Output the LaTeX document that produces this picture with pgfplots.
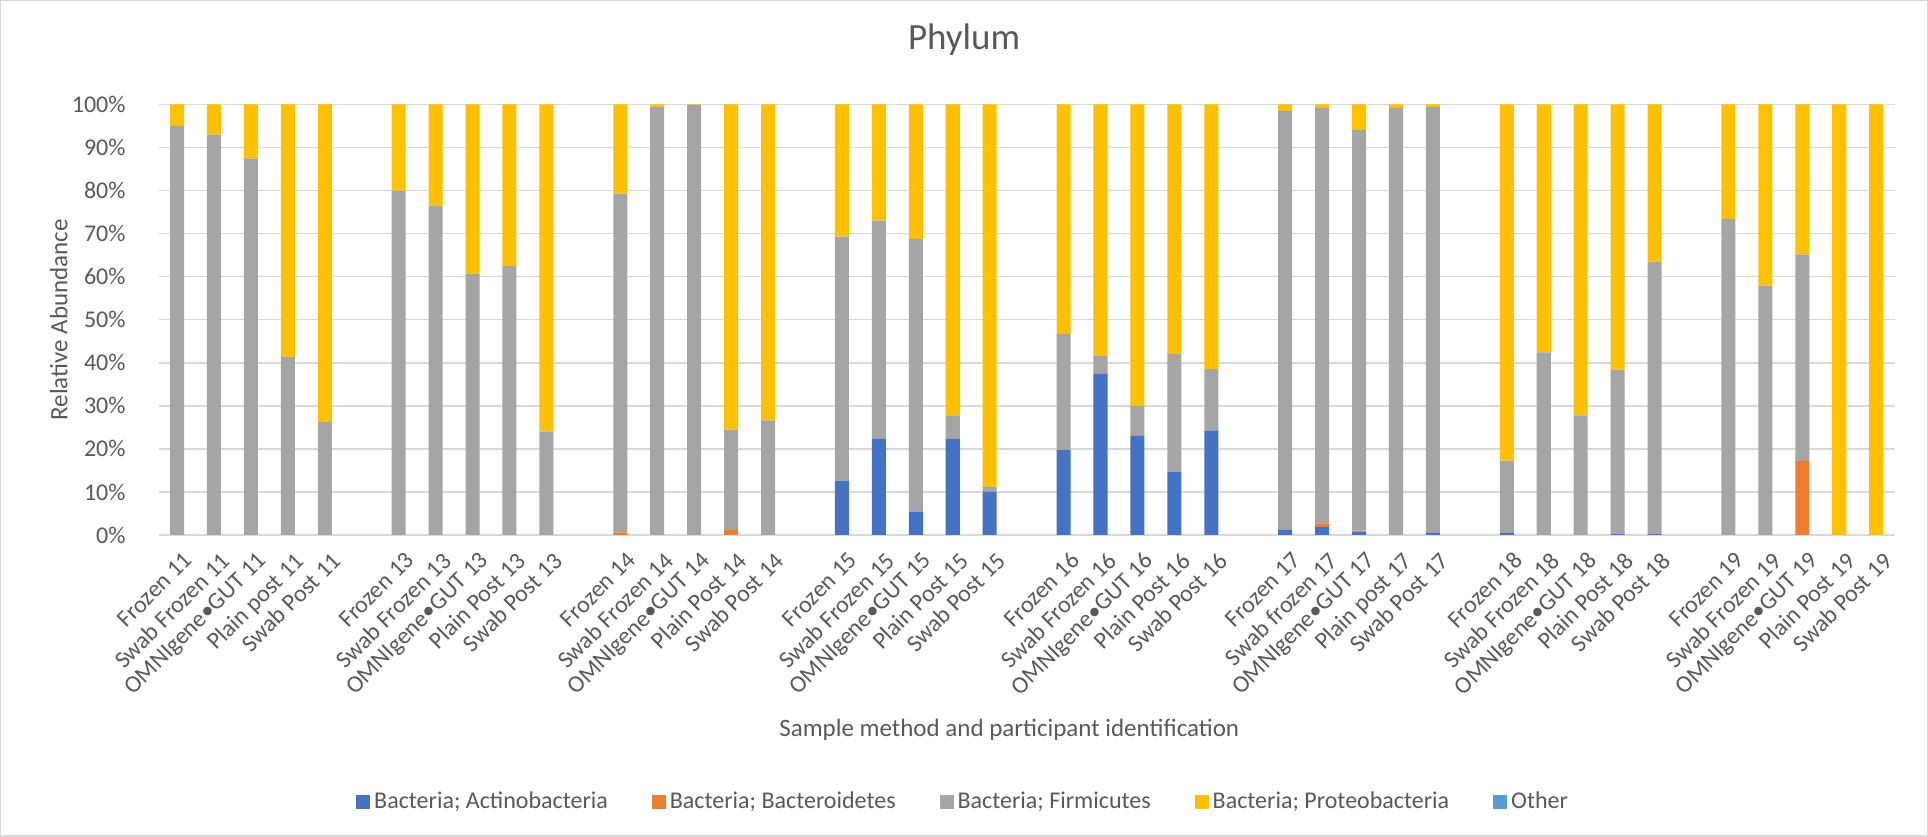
\documentclass[border=0pt]{standalone}
\usepackage{fontspec}
\setmainfont{Carlito}
\usepackage{pgfplots}
\pgfplotsset{compat=1.18}
\usepackage{pgfplotstable}
\definecolor{cAct}{HTML}{4472C4}
\definecolor{cBac}{HTML}{ED7D31}
\definecolor{cFir}{HTML}{A5A5A5}
\definecolor{cPro}{HTML}{FFC000}
\definecolor{cOth}{HTML}{5B9BD5}
\definecolor{cText}{HTML}{595959}
\definecolor{cGrid}{HTML}{D9D9D9}
\pgfplotstableread{
x act bac fir pro oth
0 0 0 95.0 5.0 0
1 0 0 93.0 7.0 0
2 0 0 87.5 12.5 0
3 0 0 41.3 58.7 0
4 0 0 26.3 73.7 0
6 0 0 80.0 20.0 0
7 0 0 76.5 23.5 0
8 0 0 60.7 39.3 0
9 0 0 62.5 37.5 0
10 0 0 24.0 76.0 0
12 0 0.6 78.7 20.7 0
13 0 0 99.5 0.5 0
14 0 0 99.9 0.1 0
15 0 1.2 23.3 75.5 0
16 0 0 26.6 73.4 0
18 12.6 0 56.7 30.7 0
19 22.3 0 50.7 27.0 0
20 5.4 0 63.4 31.2 0
21 22.3 0 5.5 72.2 0
22 10.0 0 1.2 88.8 0
24 19.7 0 27.0 53.3 0
25 37.4 0 4.2 58.4 0
26 23.0 0 7.0 70.0 0
27 14.7 0 27.3 58.0 0
28 24.2 0 14.3 61.5 0
30 1.2 0 97.3 1.5 0
31 1.9 0.8 96.5 0.8 0
32 0.8 0.2 93.1 5.9 0
33 0 0 99.2 0.8 0
34 0.5 0 98.9 0.6 0
36 0.5 0 16.8 82.7 0
37 0 0 42.4 57.6 0
38 0 0 27.8 72.2 0
39 0.3 0 38.1 61.6 0
40 0.2 0 63.3 36.5 0
42 0 0 73.4 26.6 0
43 0 0 57.9 42.1 0
44 0 17.2 48.0 34.8 0
45 0 0 0 100 0
46 0 0 0 100 0
}\data
\begin{document}
\begin{tikzpicture}
\draw[cGrid, line width=0.75pt] (0.4pt,0.4pt) rectangle (963.6pt,418.1pt);
\begin{axis}[
  at={(79.3pt,151pt)}, anchor=south west,
  width=868pt, height=215.25pt, scale only axis,
  ybar stacked, bar width=0.38,
  xmin=-0.5, xmax=46.5, ymin=0, ymax=100,
  axis line style={draw=none},
  major tick length=0pt,
  ymajorgrids, major grid style={color=cGrid, line width=0.75pt},
  ytick={0,10,...,100},
  yticklabels={0\%,10\%,20\%,30\%,40\%,50\%,60\%,70\%,80\%,90\%,100\%},
  yticklabel style={font=\fontsize{12}{14}\selectfont, text=cText, xshift=-13pt},
  xtick={0,1,2,3,4,6,7,8,9,10,12,13,14,15,16,18,19,20,21,22,24,25,26,27,28,30,31,32,33,34,36,37,38,39,40,42,43,44,45,46},
  xticklabels={Frozen 11,Swab Frozen 11,OMNIgene\textbullet GUT 11,Plain post 11,Swab Post 11,
    Frozen 13,Swab Frozen 13,OMNIgene\textbullet GUT 13,Plain Post 13,Swab Post 13,
    Frozen 14,Swab Frozen 14,OMNIgene\textbullet GUT 14,Plain Post 14,Swab Post 14,
    Frozen 15,Swab Frozen 15,OMNIgene\textbullet GUT 15,Plain Post 15,Swab Post 15,
    Frozen 16,Swab Frozen 16,OMNIgene\textbullet GUT 16,Plain Post 16,Swab Post 16,
    Frozen 17,Swab frozen 17,OMNIgene\textbullet GUT 17,Plain post 17,Swab Post 17,
    Frozen 18,Swab Frozen 18,OMNIgene\textbullet GUT 18,Plain Post 18,Swab Post 18,
    Frozen 19,Swab Frozen 19,OMNIgene\textbullet GUT 19,Plain Post 19,Swab Post 19},
  xticklabel style={rotate=45, anchor=north east, font=\fontsize{12}{14}\selectfont, text=cText, yshift=-4pt},
  title={Phylum},
  title style={at={(0.464,1.122)}, anchor=center, font=\fontsize{18.5}{22}\selectfont, text=cText},
  xlabel={Sample method and participant identification},
  xlabel style={at={(axis description cs:0.49,-0.453)}, anchor=center, font=\fontsize{12.5}{15}\selectfont, text=cText},
  ylabel={Relative Abundance},
  ylabel style={at={(axis description cs:-0.0574,0.5)}, anchor=center, font=\fontsize{12.5}{15}\selectfont, text=cText},
  legend style={at={(0.464,-0.620)}, anchor=center, legend columns=5, draw=none,
    font=\fontsize{12}{14}\selectfont, text=cText,
    /tikz/every even column/.append style={column sep=20pt}},
  legend image code/.code={\fill[draw=none] (0pt,-3.5pt) rectangle (7pt,3.5pt);},
]
\addplot[fill=cAct, draw=none] table[x=x, y=act] {\data};
\addplot[fill=cBac, draw=none] table[x=x, y=bac] {\data};
\addplot[fill=cFir, draw=none] table[x=x, y=fir] {\data};
\addplot[fill=cPro, draw=none] table[x=x, y=pro] {\data};
\addplot[fill=cOth, draw=none] table[x=x, y=oth] {\data};
\legend{Bacteria; Actinobacteria,Bacteria; Bacteroidetes,Bacteria; Firmicutes,Bacteria; Proteobacteria,Other}
\end{axis}
\end{tikzpicture}
\end{document}
